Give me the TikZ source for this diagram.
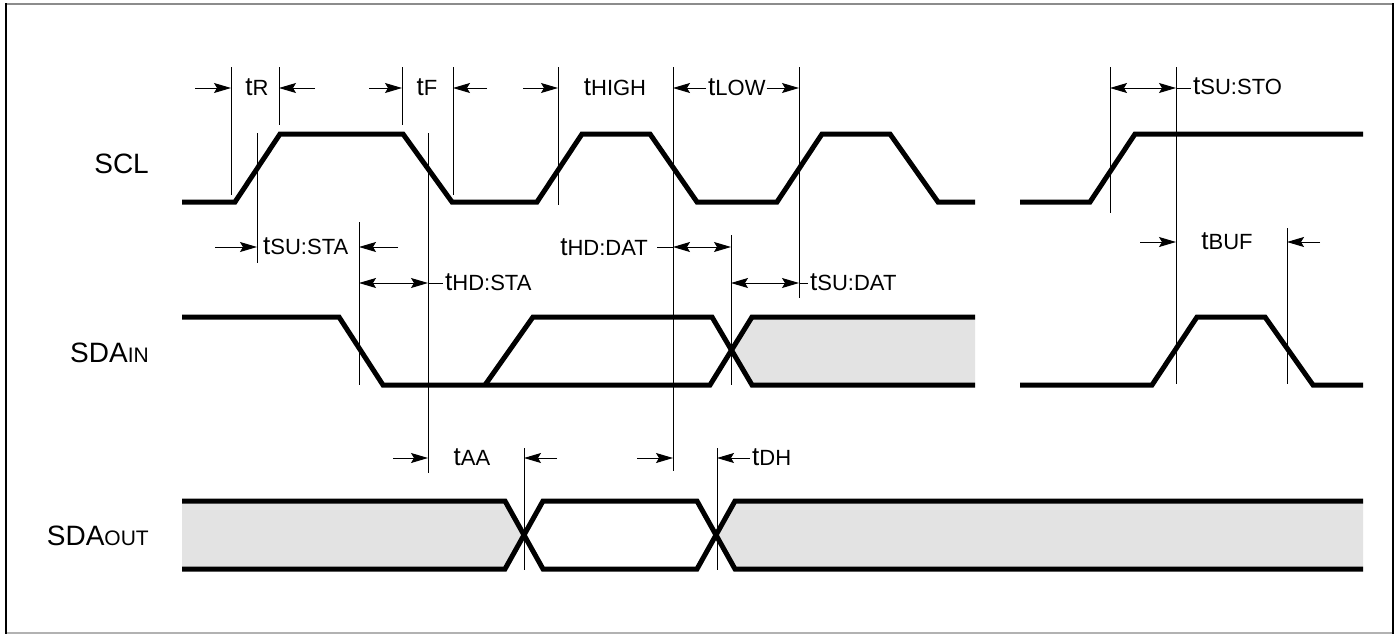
\documentclass[tikz,border=0pt]{standalone}
\usepackage{fontspec}
\setmainfont{Liberation Sans}
\usetikzlibrary{arrows.meta,calc}
\newcommand\timelbl[1]{{\fontsize{26}{26}\selectfont t}{\fontsize{22}{22}\selectfont #1}}
\newcommand\siglbl[2]{{\fontsize{28}{28}\selectfont #1}{\fontsize{21}{21}\selectfont #2}}
\begin{document}
\begin{tikzpicture}[x=1pt,y=-1pt,
  sigline/.style={line width=5pt, line join=miter, line cap=butt},
  guide/.style={line width=1pt},
  arr/.style={-{Stealth[length=17pt,width=10pt,inset=3pt]}, line width=1pt},
  darr/.style={{Stealth[length=17pt,width=10pt,inset=3pt]}-{Stealth[length=17pt,width=10pt,inset=3pt]}, line width=1pt},
  lbl/.style={inner sep=0pt},
  shade/.style={fill=black!11, draw=none}]
\useasboundingbox (0,0) rectangle (1398,635);
% frame
\draw[black!45, line width=2pt] (5,4) -- (1394,4);
\draw[black!30, line width=1.5pt] (5,633) -- (1394,633);
\draw[black, line width=2.5pt] (6,3) -- (6,634);
\draw[black, line width=2.5pt] (1393,3) -- (1393,634);

% row coordinates
\coordinate (r1) at (0,88);
\coordinate (r2) at (0,247);
\coordinate (r2b) at (0,242);
\coordinate (r3) at (0,283);
\coordinate (r4) at (0,458);

% shaded regions
\fill[shade] (731,351) -- (752,317) -- (975,317) -- (975,385) -- (752,385) -- cycle;
\fill[shade] (182,501) -- (505,501) -- (524,535) -- (505,569) -- (182,569) -- cycle;
\fill[shade] (717,535) -- (735,501) -- (1363,501) -- (1363,569) -- (735,569) -- cycle;

% guide lines
\foreach \n/\x/\a/\b in {A/231/67/195, B/279/67/125, C/257/133/263, D/402/67/125,
    E/453/67/195, F/428/133/473, G/558/67/205, H/673/67/471, I/799/67/298,
    J/359/222/385, K/731/235/385, L/1110/67/213, M/1176/67/384, N/1287/228/384,
    O/524/448/570, P/717/448/570} {
  \coordinate (g\n t) at (\x,\a);
  \coordinate (g\n b) at (\x,\b);
  \draw[guide] (g\n t) -- (g\n b);
}

% signals
\draw[sigline] (182,202) -- (235,202) -- (280,134) -- (403,134) -- (452,202) -- (537,202)
  -- (582,134) -- (650,134) -- (697,202) -- (777,202) -- (822,134) -- (890,134)
  -- (938,202) -- (975,202);
\draw[sigline] (1020,202) -- (1090,202) -- (1135,134) -- (1363,134);

\draw[sigline] (182,317) -- (339,317) -- (383,385) -- (710,385) -- (752,317) -- (975,317);
\draw[sigline] (485,385) -- (533,317) -- (712,317) -- (752,385) -- (975,385);
\draw[sigline] (1020,385) -- (1152,385) -- (1197,317) -- (1265,317) -- (1313,385) -- (1363,385);

\draw[sigline] (182,501) -- (505,501) -- (543,569) -- (697,569) -- (735,501) -- (1363,501);
\draw[sigline] (182,569) -- (505,569) -- (543,501) -- (697,501) -- (735,569) -- (1363,569);

% signal names
\node[lbl, anchor=base east] (nscl) at (149,173) {\siglbl{SCL}{}};
\node[lbl, anchor=base east] (nsdain) at (149,362) {\siglbl{SDA}{IN}};
\node[lbl, anchor=base east] (nsdaout) at (149,545) {\siglbl{SDA}{OUT}};

% ---- row 1
\node[lbl, anchor=base] (ltR) at (257,95) {\timelbl{R}};
\draw[arr] ($(gAt |- r1)+(-36,0)$) -- (gAt |- r1);
\draw[arr] ($(gBt |- r1)+(36,0)$) -- (gBt |- r1);

\node[lbl, anchor=base] (ltF) at (427,95) {\timelbl{F}};
\draw[arr] ($(gDt |- r1)+(-33,0)$) -- (gDt |- r1);
\draw[arr] ($(gEt |- r1)+(34,0)$) -- (gEt |- r1);

\node[lbl, anchor=base] (ltHIGH) at (615,95) {\timelbl{HIGH}};
\draw[arr] ($(gGt |- r1)+(-35,0)$) -- (gGt |- r1);

\node[lbl, anchor=base west] (ltLOW) at (708,95) {\timelbl{LOW}};
\draw[arr] ($(ltLOW.west |- r1)+(-2,0)$) -- (gHt |- r1);
\draw[arr] ($(ltLOW.east |- r1)+(1,0)$) -- (gIt |- r1);

\node[lbl, anchor=base west] (ltSUSTO) at (1193,94) {\timelbl{SU:STO}};
\draw[darr] (gLt |- r1) -- (gMt |- r1);
\draw[guide] (gMt |- r1) -- ($(ltSUSTO.west |- r1)+(-2,0)$);

% ---- row 2
\node[lbl, anchor=base west] (ltSUSTA) at (263,254) {\timelbl{SU:STA}};
\draw[arr] ($(gCt |- r2)+(-42,0)$) -- (gCt |- r2);
\draw[arr] ($(gJt |- r2)+(39,0)$) -- (gJt |- r2);

\node[lbl, anchor=base east] (ltHDDAT) at (648,255) {\timelbl{HD:DAT}};
\draw[guide] ($(ltHDDAT.east |- r2)+(9,0)$) -- (gHt |- r2);
\draw[darr] (gHt |- r2) -- (gKt |- r2);

\node[lbl, anchor=base] (ltBUF) at (1227,249) {\timelbl{BUF}};
\draw[arr] ($(gMt |- r2b)+(-36,0)$) -- (gMt |- r2b);
\draw[arr] ($(gNt |- r2b)+(33,0)$) -- (gNt |- r2b);

% ---- row 3
\node[lbl, anchor=base west] (ltHDSTA) at (445,290) {\timelbl{HD:STA}};
\draw[darr] (gJt |- r3) -- (gFt |- r3);
\draw[guide] (gFt |- r3) -- ($(ltHDSTA.west |- r3)+(-2,0)$);

\node[lbl, anchor=base west] (ltSUDAT) at (810,290) {\timelbl{SU:DAT}};
\draw[darr] (gKt |- r3) -- (gIt |- r3);
\draw[guide] (gIt |- r3) -- ($(ltSUDAT.west |- r3)+(-2,0)$);

% ---- row 4
\node[lbl, anchor=base] (ltAA) at (472,465) {\timelbl{AA}};
\draw[arr] ($(gFt |- r4)+(-35,0)$) -- (gFt |- r4);
\draw[arr] ($(gOt |- r4)+(33,0)$) -- (gOt |- r4);
\draw[arr] ($(gHt |- r4)+(-36,0)$) -- (gHt |- r4);

\node[lbl, anchor=base west] (ltDH) at (752,465) {\timelbl{DH}};
\draw[arr] ($(ltDH.west |- r4)+(-2,0)$) -- (gPt |- r4);
\end{tikzpicture}
\end{document}
